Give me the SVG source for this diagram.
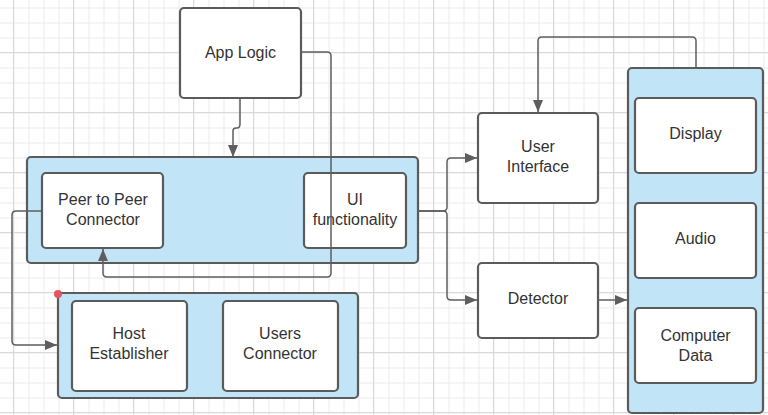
<svg xmlns="http://www.w3.org/2000/svg" width="768" height="415" viewBox="0 0 768 415">
<defs>
<pattern id="gridS" x="13.5" y="7.5" width="15" height="15" patternUnits="userSpaceOnUse">
<path d="M0.5 0 V15 M0 0.5 H15" fill="none" stroke="#ebebeb" stroke-width="1"/>
</pattern>
<pattern id="gridL" x="13" y="52" width="60" height="60" patternUnits="userSpaceOnUse">
<path d="M0.5 0 V60 M0 0.5 H60" fill="none" stroke="#d9d9d9" stroke-width="1"/>
</pattern>
<marker id="arr" markerUnits="userSpaceOnUse" markerWidth="13" markerHeight="11" refX="12" refY="5" orient="auto">
<path d="M0,0 L12,5 L0,10 z" fill="#5e5e5e"/>
</marker>
</defs>
<style>
.box{fill:#ffffff;stroke:#5b5b5b;stroke-width:2.2}
.cont{fill:#c1e4f6;stroke:#5b5b5b;stroke-width:2.2}
.t{font-family:"Liberation Sans",Arial,sans-serif;font-size:16px;fill:#333333;text-anchor:middle}
.c{fill:none;stroke:#5e5e5e;stroke-width:1.5;marker-end:url(#arr)}
</style>
<rect width="768" height="415" fill="#ffffff"/>
<rect width="768" height="415" fill="url(#gridS)"/>
<rect width="768" height="415" fill="url(#gridL)"/>

<g id="top-container"><rect class="cont" x="27" y="157" width="391" height="106" rx="4"/></g>
<g id="peer-to-peer"><rect class="box" x="42" y="173" width="121" height="75" rx="4"/><text class="t" x="103" y="205">Peer to Peer</text><text class="t" x="103" y="225">Connector</text></g>
<g id="ui-functionality"><rect class="box" x="304" y="173" width="102" height="75" rx="4"/><text class="t" x="355" y="205">UI</text><text class="t" x="355" y="225">functionality</text></g>

<g id="bottom-container"><rect class="cont" x="58" y="293" width="300" height="105" rx="4"/><circle cx="58" cy="294" r="4" fill="#e05562"/></g>
<g id="host-establisher"><rect class="box" x="72" y="301" width="115" height="90" rx="4"/><text class="t" x="129" y="338.5">Host</text><text class="t" x="129" y="358.5">Establisher</text></g>
<g id="users-connector"><rect class="box" x="223" y="301" width="115" height="90" rx="4"/><text class="t" x="280" y="339">Users</text><text class="t" x="280" y="359">Connector</text></g>

<g id="app-logic"><rect class="box" x="180" y="8" width="121" height="90" rx="4"/><text class="t" x="240.5" y="58">App Logic</text></g>
<g id="user-interface"><rect class="box" x="478" y="113" width="120" height="90" rx="4"/><text class="t" x="538" y="152">User</text><text class="t" x="538" y="172">Interface</text></g>
<g id="detector"><rect class="box" x="478" y="263" width="120" height="75" rx="4"/><text class="t" x="538" y="304">Detector</text></g>

<g id="right-container"><rect class="cont" x="628" y="68" width="135" height="345" rx="4"/></g>
<g id="display"><rect class="box" x="635" y="98" width="121" height="75" rx="4"/><text class="t" x="695.5" y="138.5">Display</text></g>
<g id="audio"><rect class="box" x="635" y="203" width="121" height="75" rx="4"/><text class="t" x="695.5" y="243.5">Audio</text></g>
<g id="computer-data"><rect class="box" x="635" y="308" width="121" height="75" rx="4"/><text class="t" x="695.5" y="341">Computer</text><text class="t" x="695.5" y="360.5">Data</text></g>

<g id="connectors">
<path class="c" d="M240 99 V124 Q240 128 237 128 H236 Q233 128 233 131 V157"/>
<path class="c" d="M301 52 H327 Q331 52 331 56 V273 Q331 277 327 277 H107 Q103 277 103 273 V249"/>
<path class="c" d="M42 211 H16 Q12 211 12 215 V341 Q12 345 16 345 H57"/>
<path class="c" d="M418 211 H443 Q447 211 447 207 V162 Q447 158 451 158 H477"/>
<path class="c" d="M418 211 H443 Q447 211 447 215 V296 Q447 300 451 300 H477"/>
<path class="c" d="M598 300 H627"/>
<path class="c" d="M696 68 V41 Q696 37 692 37 H542 Q538 37 538 41 V112"/>
</g>
</svg>
